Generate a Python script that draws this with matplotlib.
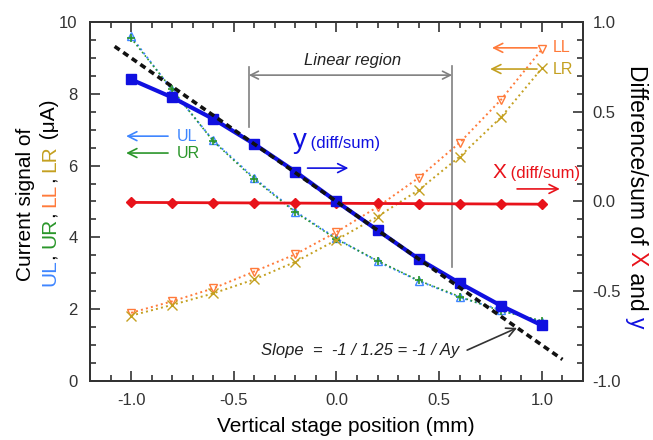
import matplotlib
matplotlib.use('agg')
from matplotlib import pyplot as plt
from matplotlib.ticker import MultipleLocator, FormatStrFormatter

plt.rcParams['font.family'] = ['Liberation Sans', 'DejaVu Sans']
plt.rcParams['axes.unicode_minus'] = False

# stage positions (mm)
stage_pos = [-1.0, -0.8, -0.6, -0.4, -0.2, 0.0, 0.2, 0.4, 0.6, 0.8, 1.0]

# quadrant currents (uA), left axis
ul_sig = [9.60, 8.10, 6.70, 5.65, 4.72, 3.97, 3.33, 2.79, 2.33, 1.98, 1.65]
ur_sig = [9.55, 8.12, 6.68, 5.62, 4.70, 3.95, 3.35, 2.80, 2.35, 1.95, 1.68]
ll_sig = [1.90, 2.22, 2.58, 3.05, 3.53, 4.15, 4.85, 5.66, 6.64, 7.83, 9.24]
lr_sig = [1.82, 2.12, 2.44, 2.83, 3.32, 3.93, 4.58, 5.32, 6.25, 7.34, 8.71]

# diff/sum, right axis
y_diffsum = [0.68, 0.58, 0.46, 0.32, 0.166, 0.0, -0.16, -0.32, -0.455, -0.58, -0.69]
x_diffsum = [-0.005, -0.006, -0.007, -0.008, -0.009, -0.010, -0.011, -0.012, -0.013, -0.014, -0.015]

# fitted slope line
ay = 1.25
slope_x = [-1.08, 1.10]
linear_region = (-0.427, 0.563)

C_UL = '#3f86ff'
C_UR = '#2a962a'
C_LL = '#ff7a3a'
C_LR = '#c4a020'
C_Y = '#1010e0'
C_X = '#e8121a'
C_GRAY = '#808080'


def colored_label(fig, x, y_mid, pieces, rotation, size):
    """Write a rotated label made of differently coloured pieces."""
    renderer = fig.canvas.get_renderer()

    def width(s):
        t = fig.text(0, 0, s + '|', fontsize=size)
        w = t.get_window_extent(renderer).width
        t.remove()
        return w

    bar = width('')
    full = ''.join(p for p, _ in pieces)
    total = width(full) - bar
    figh = fig.bbox.height
    y0 = y_mid * figh
    prefix = ''
    for text, color in pieces:
        off = width(prefix) - bar if prefix else 0.0
        if rotation == 90:
            pos = y0 - total / 2 + off
        else:
            pos = y0 + total / 2 - off
        fig.text(x, pos / figh, text, rotation=rotation, rotation_mode='anchor',
                 ha='left', va='baseline', color=color, fontsize=size)
        prefix += text


fig = plt.figure(figsize=(6.53, 4.4), dpi=100)
ax = fig.add_axes([0.1378, 0.1341, 0.7550, 0.8159])
ax2 = ax.twinx()

ax.plot(stage_pos, ul_sig, ':', color=C_UL, lw=1.4, marker='^', ms=6,
        mfc='none', mec=C_UL, mew=1.0)
ax.plot(stage_pos, ur_sig, ':', color=C_UR, lw=1.2, marker='+', ms=6,
        mec=C_UR, mew=1.2)
ax.plot(stage_pos, ll_sig, ':', color=C_LL, lw=1.4, marker='v', ms=6,
        mfc='none', mec=C_LL, mew=1.0)
ax.plot(stage_pos, lr_sig, ':', color=C_LR, lw=1.4, marker='x', ms=7,
        mec=C_LR, mew=1.0)

ax2.plot(stage_pos, x_diffsum, '-', color=C_X, lw=2.0, marker='D', ms=5.5,
         mfc=C_X, mec=C_X, zorder=3)
ax2.plot(stage_pos, y_diffsum, '-', color=C_Y, lw=3.0, marker='s', ms=7,
         mfc=C_Y, mec=C_Y, zorder=3)
ax2.plot(slope_x, [-v / ay for v in slope_x], color='#111111', lw=2.6,
         linestyle=(0, (1.7, 1.2)), zorder=4)

# axes and ticks
ax.set_xlim(-1.2, 1.2)
ax.set_ylim(0, 10)
ax2.set_ylim(-1, 1)
ax.xaxis.set_major_locator(MultipleLocator(0.5))
ax.xaxis.set_minor_locator(MultipleLocator(0.1))
ax.xaxis.set_major_formatter(FormatStrFormatter('%.1f'))
ax.yaxis.set_major_locator(MultipleLocator(2))
ax.yaxis.set_minor_locator(MultipleLocator(0.5))
ax2.yaxis.set_major_locator(MultipleLocator(0.5))
ax2.yaxis.set_minor_locator(MultipleLocator(0.1))
ax2.yaxis.set_major_formatter(FormatStrFormatter('%.1f'))

for a in (ax, ax2):
    for sp in a.spines.values():
        sp.set_linewidth(1.4)
        sp.set_color('#333333')
ax.tick_params(which='both', direction='in', top=True, right=False,
               labelsize=12, labelcolor='#333333', color='#333333', width=1.2)
ax.tick_params(which='major', length=7)
ax.tick_params(which='minor', length=4)
ax.tick_params(axis='x', pad=9)
ax.tick_params(axis='y', pad=9)
ax2.tick_params(which='both', direction='in', left=False, right=True,
                labelsize=12, labelcolor='#333333', color='#333333', width=1.2, pad=7)
ax2.tick_params(which='major', length=7)
ax2.tick_params(which='minor', length=4)

# linear region bracket
ax.plot([linear_region[0]] * 2, [8.75, 7.07], color=C_GRAY, lw=1.2)
ax.plot([linear_region[1]] * 2, [8.77, 3.18], color=C_GRAY, lw=1.2)
ax.annotate('', xy=(linear_region[0], 8.52), xytext=(linear_region[1], 8.52),
            arrowprops=dict(arrowstyle='<->', color=C_GRAY, lw=1.2,
                            shrinkA=0, shrinkB=0, mutation_scale=14))
ax.text(0.078, 8.94, 'Linear region', style='italic', fontsize=12,
        ha='center', va='center', color='#222222')

# signal labels with arrows
def arrow_label(x0, x1, y, text, tx, color, size=11.5):
    ax.annotate('', xy=(x1, y), xytext=(x0, y),
                arrowprops=dict(arrowstyle='->', color=color, lw=1.2,
                                shrinkA=0, shrinkB=0, mutation_scale=16))
    ax.text(tx, y, text, color=color, fontsize=size, ha='left', va='center')


arrow_label(-0.82, -1.024, 6.82, 'UL', -0.777, C_UL)
arrow_label(-0.82, -1.024, 6.35, 'UR', -0.777, C_UR)
arrow_label(0.976, 0.757, 9.28, 'LL', 1.053, C_LL)
arrow_label(0.976, 0.748, 8.69, 'LR', 1.053, C_LR)

ax.text(-0.146, 6.49, 'y', color=C_Y, fontsize=20, ha='right', va='baseline')
ax.text(-0.146, 6.49, ' (diff/sum)', color=C_Y, fontsize=12, ha='left', va='baseline')
ax.annotate('', xy=(0.058, 5.93), xytext=(-0.141, 5.93),
            arrowprops=dict(arrowstyle='->', color=C_Y, lw=1.2,
                            shrinkA=0, shrinkB=0, mutation_scale=16))

ax.text(0.825, 5.65, 'X', color=C_X, fontsize=15, ha='right', va='baseline')
ax.text(0.825, 5.65, ' (diff/sum)', color=C_X, fontsize=12, ha='left', va='baseline')
ax.annotate('', xy=(1.087, 5.35), xytext=(0.879, 5.35),
            arrowprops=dict(arrowstyle='->', color=C_X, lw=1.2,
                            shrinkA=0, shrinkB=0, mutation_scale=16))

ax.text(-0.369, 0.86, f'Slope  =  -1 / {ay} = -1 / Ay', style='italic',
        fontsize=12, ha='left', va='center', color='#222222')
ax.annotate('', xy=(0.879, 1.48), xytext=(0.636, 0.86),
            arrowprops=dict(arrowstyle='->', color='#333333', lw=1.2,
                            shrinkA=0, shrinkB=0, mutation_scale=16))

# axis titles
fig.text(0.529, 0.03, 'Vertical stage position (mm)', fontsize=15,
         ha='center', va='center')
colored_label(fig, 31 / 653, 0.536, [('Current signal of', 'black')], 90, 15)
colored_label(fig, 55 / 653, 0.561,
              [('UL', C_UL), (', ', 'black'), ('UR', C_UR), (', ', 'black'),
               ('LL', C_LL), (', ', 'black'), ('LR', C_LR), (' (μA)', 'black')],
              90, 15)
colored_label(fig, 630 / 653, 0.553,
              [('Difference/sum of ', 'black'), ('X', C_X), (' and ', 'black'),
               ('y', C_Y)], 270, 16.5)

fig.savefig('out.png', dpi=100)
